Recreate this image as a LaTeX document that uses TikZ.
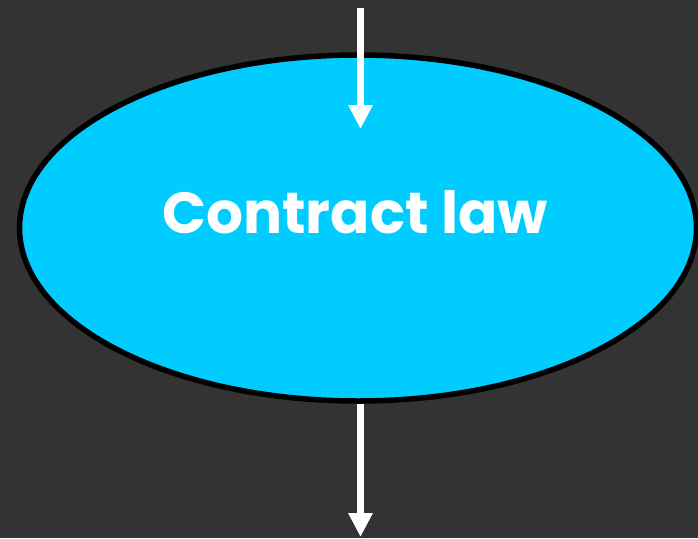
\documentclass[tikz,border=0pt]{standalone}
\usepackage{fontspec}
\setmainfont{Poppins}[BoldFont={* Bold}]
\usepackage{tikz}
\usetikzlibrary{arrows.meta,shapes.geometric}

\definecolor{bgdark}{HTML}{333333}
\definecolor{lawcyan}{HTML}{00CCFF}

\tikzset{
  topic/.style={ellipse,draw=black,line width=5.5pt,fill=lawcyan,
    minimum width=677pt,minimum height=346pt,inner sep=0pt},
  flow/.style={draw=white,line width=7pt,-{Triangle[length=24pt,width=23pt]}}
}

\begin{document}
\begin{tikzpicture}[x=1pt,y=-1pt]
  \fill[bgdark] (0,0) rectangle (698,538);
  \useasboundingbox (0,0) rectangle (698,538);
  \node[topic] (law) at (358,228) {};
  \node[text=white,font=\bfseries\fontsize{58}{68}\selectfont,anchor=base] (lawtext) at (355,233) {Contract law};
  \coordinate (into) at (360.5,8);
  \coordinate (intoend) at (360.5,129);
  \coordinate (outof) at (360.5,537);
  \draw[flow] (into) -- (intoend);
  \draw[flow] (law.south -| outof) -- (outof);
\end{tikzpicture}
\end{document}
